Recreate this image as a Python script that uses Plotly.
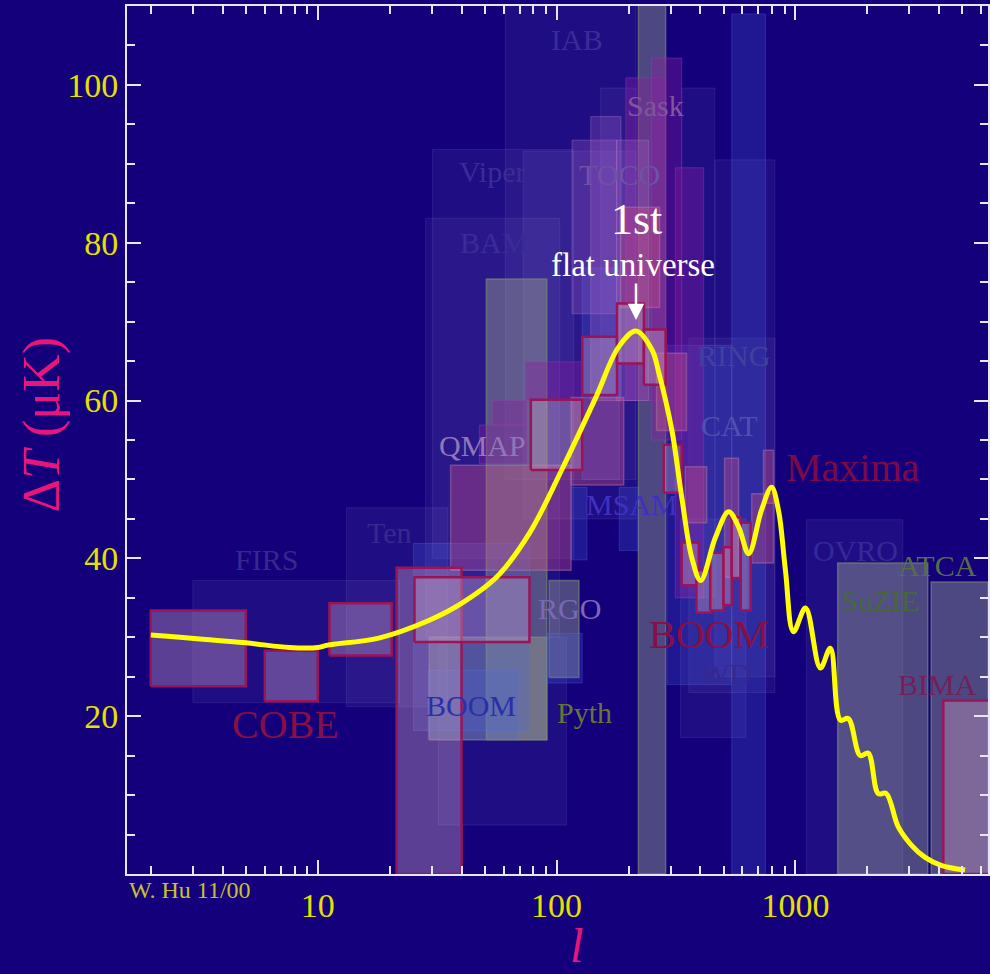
import numpy as np
import plotly.graph_objects as go

# ---------------- data ----------------
# theory curve (multipole l, Delta T in microK)
curve_l = [2, 5, 7.6, 10, 11, 18, 29, 40, 56, 77, 105, 146, 182, 215, 251, 268, 304, 334,
           368, 401, 463, 525, 578, 637, 721, 794, 849, 908, 981, 1102, 1271, 1400, 1542,
           1665, 1868, 2018, 2221, 2399, 2692, 3050, 3490, 4072, 5129]
curve_t = [30.3, 29.3, 28.7, 28.7, 29.0, 29.9, 32.1, 34.3, 37.6, 43.2, 51.2, 60.4, 66.8, 68.8,
           66.4, 63.5, 56.2, 47.8, 40.1, 37.2, 42.7, 45.9, 44.0, 40.6, 46.1, 49.0, 46.1, 38.5,
           30.7, 33.7, 26.1, 28.6, 19.5, 19.7, 15.0, 15.3, 10.2, 10.2, 6.0, 3.7, 2.1, 1.1, 0.5]

# experiment band-powers: (l_min, l_max, dT_low, dT_high)
faint_boxes = [(3.0, 22, 21.7, 37.2), (13.2, 35, 21.2, 46.4), (28.3, 103, 30, 83.1),
               (30.2, 118, 40, 91.8), (61, 215, 50, 115), (72.5, 215, 45, 91.6),
               (32, 110, 6.2, 30), (153, 215, 60, 99.6), (334, 460, 35, 99.6),
               (460, 820, 25, 90.5), (358, 820, 23, 67.9), (330, 620, 17.3, 45),
               (1111, 2816, 0, 44.9)]
gray_boxes = [(220, 286, 0, 115), (50.8, 91, 17, 75.4), (29.3, 91, 17, 30),
              (93, 124, 24.9, 37.2), (1503, 3580, 0, 39.4), (3700, 6400, 0, 37.0)]
blue_boxes = [(541, 750, 0, 109), (25.2, 77, 18.2, 41.9), (29, 69, 17, 25.8),
              (290, 541, 24, 67), (128, 183, 50, 76.8), (115, 134, 39.8, 49),
              (183, 220, 41, 49), (91, 128, 24.2, 30.5)]
purple_boxes = [(195, 286, 60, 100.9), (250, 334, 55, 103.4), (314, 413, 35, 89.5),
                (47.5, 75, 52, 56.9), (54, 75, 56.9, 60), (74, 128, 60, 64.9)]
toco_boxes = [(116, 179, 71, 93), (139, 186, 60, 96), (178, 243, 60, 93)]
pink_boxes = [(36, 115, 38.5, 51.8), (115, 191, 49.3, 60.4), (262, 350, 56.2, 66),
              (346, 425, 44.5, 51.6), (505, 578, 37.6, 52.7), (656, 810, 39.4, 48.2),
              (735, 810, 47, 53.7), (185, 270, 71.8, 84.5)]
red_boxes = [(2.0, 5.0, 23.8, 33.4), (6.0, 10, 21.9, 28.3), (11.2, 20.4, 27.7, 34.3),
             (21.4, 40, 0, 38.8), (25.4, 77, 29.4, 37.6), (78, 128, 51.2, 60.1),
             (128, 179, 60.7, 68.1), (179, 232, 64.7, 72.3), (232, 286, 62, 69),
             (281, 334, 48.3, 54.4), (334, 394, 36.6, 42.0), (385, 445, 33.1, 38.5),
             (440, 500, 33.4, 40.7), (500, 541, 34.1, 41.4), (541, 590, 37.5, 45.2),
             (590, 649, 33.4, 44.5), (4160, 9000, 0, 22.0)]

label_text = ["IAB", "Sask", "Viper", "TOCO", "BAM", "RING", "CAT", "QMAP", "MSAM", "Ten",
              "FIRS", "OVRO", "ATCA", "SuZIE", "RGO", "WD", "BIMA", "BOOM", "Pyth",
              "Maxima", "BOOM", "COBE"]
label_l = [122, 260, 54, 184, 54.5, 550, 528, 49, 207, 20, 6.1, 1780, 3950, 2260, 113, 511,
           3950, 44, 131, 1745, 433, 7.35]
label_t = [105.7, 97.4, 89.0, 88.6, 80.0, 65.7, 56.9, 54.3, 46.8, 43.3, 39.8, 41.0, 39.1,
           34.7, 33.7, 25.4, 24.0, 21.3, 20.5, 51.5, 30.4, 18.9]
label_color = ["#3a2c98", "#80559e", "#3a2c98", "#7050a8", "#3a2c98", "#42409e", "#5050b0",
               "#9078b8", "#4030c0", "#36288e", "#36288e", "#36289a", "#566c4c", "#46683c",
               "#7a68b8", "#36288e", "#72205a", "#2a30a8", "#66763a", "#7c0a48", "#861046",
               "#861046"]
label_size = [30, 30, 30, 30, 30, 30, 30, 30, 30, 30, 30, 30, 30, 30, 30, 30, 30, 30, 30,
              40, 40, 40]

x_major = [10, 100, 1000]
x_minor = [m * d for d in [1, 10, 100, 1000] for m in range(2, 10)]
y_major = [20, 40, 60, 80, 100]
y_minor = [v for v in range(5, 110, 5) if v % 20 != 0]

peak_l, peak_t = 215, 70.2

# ---------------- figure ----------------
BG = "#13007a"
fig = go.Figure()


def add_boxes(boxes, fill, line, width):
    for (l0, l1, t0, t1) in boxes:
        fig.add_trace(go.Scatter(x=[l0, l1, l1, l0, l0], y=[t0, t0, t1, t1, t0],
                                 mode="lines", fill="toself", fillcolor=fill,
                                 line=dict(color=line, width=width),
                                 hoverinfo="skip", showlegend=False))


add_boxes(faint_boxes, "rgba(150,140,225,0.09)", "rgba(160,150,235,0.14)", 1)
add_boxes(gray_boxes, "rgba(150,160,140,0.45)", "rgba(120,135,115,0.65)", 1.5)
add_boxes(blue_boxes, "rgba(70,100,225,0.24)", "rgba(100,120,235,0.28)", 1)
add_boxes(purple_boxes, "rgba(140,30,160,0.38)", "rgba(150,70,170,0.4)", 1)
add_boxes(toco_boxes, "rgba(170,100,200,0.28)", "rgba(180,130,210,0.35)", 1)
add_boxes(pink_boxes, "rgba(210,80,130,0.36)", "rgba(180,120,170,0.45)", 1.5)
add_boxes(red_boxes, "rgba(190,150,185,0.42)", "#9a1458", 2.5)

fig.add_trace(go.Scatter(x=curve_l, y=curve_t, mode="lines",
                         line=dict(color="#ffff00", width=5, shape="spline", smoothing=1.0),
                         hoverinfo="skip", showlegend=False))

ann = []
for txt, l, t, c, s in zip(label_text, label_l, label_t, label_color, label_size):
    ann.append(dict(x=np.log10(l), y=t, xref="x", yref="y", text=txt, showarrow=False,
                    font=dict(family="Liberation Serif", size=s, color=c),
                    xanchor="center", yanchor="middle"))

ann.append(dict(x=np.log10(peak_l), y=82.9, xref="x", yref="y", text="1st", showarrow=False,
                font=dict(family="Liberation Serif", size=44, color="white")))
ann.append(dict(x=np.log10(208), y=77.2, xref="x", yref="y", text="flat universe",
                showarrow=False, font=dict(family="Liberation Serif", size=33, color="white")))
ann.append(dict(x=np.log10(peak_l), y=peak_t, xref="x", yref="y", text="", showarrow=True,
                ax=0, ay=-38, arrowhead=2, arrowsize=1.3, arrowwidth=2.5, arrowcolor="white",
                standoff=0))
ann.append(dict(x=-0.0985, y=0.517, xref="paper", yref="paper", text="Δ<i>T</i> (μK)",
                textangle=-90, showarrow=False, xanchor="center", yanchor="middle",
                font=dict(family="Liberation Serif", size=52, color="#e8157d")))
ann.append(dict(x=0.5226, y=-0.0825, xref="paper", yref="paper", text="<i>l</i>",
                showarrow=False, xanchor="center", yanchor="middle",
                font=dict(family="Liberation Serif", size=48, color="#e8157d")))
ann.append(dict(x=0.0, y=-0.0184, xref="paper", yref="paper", text="W. Hu 11/00",
                showarrow=False, xanchor="left", yanchor="middle",
                font=dict(family="Liberation Serif", size=24, color="#c8c030")))

axis_col = "#e8e6f4"
fig.update_layout(
    width=990, height=974,
    margin=dict(l=127, r=0, t=6, b=100),
    paper_bgcolor=BG, plot_bgcolor=BG,
    showlegend=False,
    font=dict(family="Liberation Serif"),
    annotations=ann,
    xaxis=dict(type="log", range=[np.log10(1.59), np.log10(6400)],
               showgrid=False, zeroline=False, showline=True, linecolor=axis_col,
               linewidth=2, mirror="ticks", ticks="inside", ticklen=14, tickwidth=2,
               tickcolor=axis_col, tickvals=x_major, ticktext=[str(v) for v in x_major],
               tickfont=dict(family="Liberation Serif", size=34, color="#e6e000"),
               minor=dict(tickvals=x_minor, ticks="inside", ticklen=8, tickwidth=2,
                          tickcolor=axis_col, showgrid=False)),
    yaxis=dict(range=[0, 110], showgrid=False, zeroline=False, showline=True,
               linecolor=axis_col, linewidth=2, mirror="ticks", ticks="inside",
               ticklen=14, tickwidth=2, tickcolor=axis_col, tickvals=y_major,
               ticktext=[str(v) for v in y_major],
               tickfont=dict(family="Liberation Serif", size=34, color="#e6e000"),
               minor=dict(tickvals=y_minor, ticks="inside", ticklen=8, tickwidth=2,
                          tickcolor=axis_col, showgrid=False)),
)

fig.write_html("out.html")
